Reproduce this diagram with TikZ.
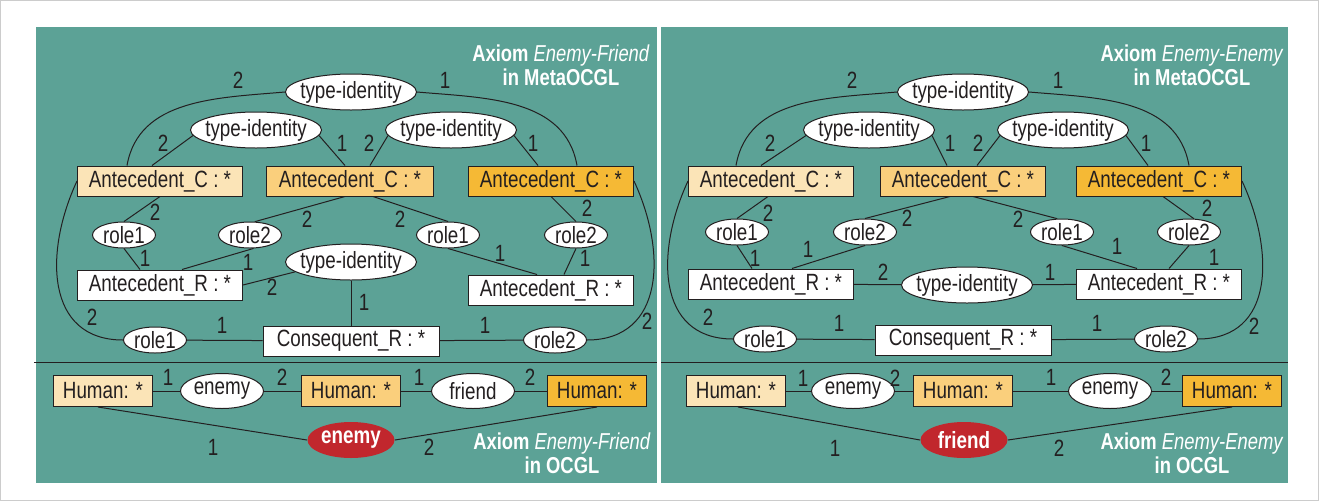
\documentclass[tikz,border=0pt]{standalone}
\usepackage{fontspec}
\setmainfont{Liberation Sans}[FakeStretch = 0.8]
\usepackage{tikz}
\usetikzlibrary{shapes.geometric}

\definecolor{ink}{RGB}{35,31,32}
\definecolor{panel}{RGB}{92,162,150}
\definecolor{pale}{RGB}{251,228,183}
\definecolor{mid}{RGB}{250,207,124}
\definecolor{deep}{RGB}{245,185,53}
\definecolor{alarm}{RGB}{193,39,45}

\newcommand{\diagfont}{\fontsize{23.5}{28}\selectfont}

\tikzset{
concept box/.style = { rectangle, draw = ink, fill = #1, minimum width = 165pt, minimum height = 30pt, inner sep = 0pt },
human box/.style = { concept box = #1, minimum width = 99pt, minimum height = 31pt },
relation/.style = { ellipse, draw = ink, fill = white, inner xsep = -5pt, inner ysep = 0pt, minimum width = 131pt, minimum height = 36pt },
role/.style = { relation, minimum width = 63pt, minimum height = 26pt },
link/.style = { relation, minimum width = 83pt, minimum height = 35pt },
fact oval/.style = { ellipse, fill = alarm, text = white, font = \diagfont\bfseries, inner xsep = -5pt, inner ysep = 0pt, minimum width = 87pt, minimum height = 36pt },
card/.style = { inner sep = 0pt },
heading/.style = { text = white, align = center, font = \fontsize{23}{24}\selectfont },
}

\begin{document}
\begin{tikzpicture}[x = 1pt, y = -1pt, font = \diagfont, color = ink, line width = 1pt]
  \useasboundingbox (0, 0) rectangle (1319, 501);
  \draw[gray!40] (0.5, 0.5) rectangle (1318.5, 500.5);
  \fill[panel] (36, 27) rectangle (657, 483);
  \fill[panel] (661, 27) rectangle (1288, 483);
  \draw (34, 362) -- (657, 362);
  \draw (661, 362) -- (1288, 362);

  % Enemy-Friend, MetaOCGL part
  \node[heading] (efMetaTitle) at (561, 65) {\textbf{Axiom} \textit{Enemy-Friend}\\\textbf{in MetaOCGL}};
  \node[relation] (efTop) at (351, 92) {type-identity};
  \node[relation] (efTiL) at (256, 130) {type-identity};
  \node[relation] (efTiR) at (451, 130) {type-identity};
  \node[concept box = pale] (efAcL) at (160, 181) {Antecedent\_C : *};
  \node[concept box = mid, minimum width = 167pt] (efAcM) at (350, 181) {Antecedent\_C : *};
  \node[concept box = deep] (efAcR) at (551, 181) {Antecedent\_C : *};
  \node[role] (efRoA) at (124, 235) {role1};
  \node[role] (efRoB) at (250, 235) {role2};
  \node[role] (efRoC) at (448, 235) {role1};
  \node[role] (efRoD) at (576, 235) {role2};
  \node[concept box = white] (efArL) at (160, 285) {Antecedent\_R : *};
  \node[relation] (efTiM) at (351, 262) {type-identity};
  \node[concept box = white] (efArR) at (551, 290) {Antecedent\_R : *};
  \node[concept box = white, minimum width = 176pt] (efCons) at (351, 341) {Consequent\_R : *};
  \node[role] (efRoE) at (155, 340) {role1};
  \node[role] (efRoF) at (555, 340) {role2};

  \draw (efTop.west) to[out = 185, in = 80] ([xshift = -33pt] efAcL.north) node[card] at (238, 80) {2};
  \draw (efTop.east) to[out = -5, in = 100] ([xshift = 26pt] efAcR.north) node[card] at (445, 80) {1};
  \draw (efTiL.185) -- ([xshift = -8pt] efAcL.north) node[card] at (163, 143) {2};
  \draw (efTiL.355) -- ([xshift = -5pt] efAcM.north) node[card] at (342, 143) {1};
  \draw (efTiR.185) -- ([xshift = 20pt] efAcM.north) node[card] at (369, 143) {2};
  \draw (efTiR.355) -- ([xshift = -13pt] efAcR.north) node[card] at (533, 143) {1};
  \draw (efAcL.south) -- (efRoA.north) node[card] at (155, 212) {2};
  \draw ([xshift = -5pt] efAcM.south) -- (efRoB.70) node[card] at (307, 219) {2};
  \draw ([xshift = 23pt] efAcM.south) -- (efRoC.north) node[card] at (400, 219) {2};
  \draw (efAcR.south) -- (efRoD.north) node[card] at (587, 208) {2};
  \draw (efRoA.south) -- ([xshift = -20pt] efArL.north) node[card] at (145, 258) {1};
  \draw (efRoB.285) -- ([xshift = 22pt] efArL.north) node[card] at (248, 262) {1};
  \draw (efTiM.190) -- (efArL.east) node[card] at (272, 287) {2};
  \draw (efTiM.south) -- (efCons.north) node[card] at (364, 302) {1};
  \draw (efRoC.south) -- ([xshift = -14pt] efArR.north) node[card] at (500, 253) {1};
  \draw (efRoD.south) -- ([xshift = 13pt] efArR.north) node[card] at (585, 258) {1};
  \draw (efAcL.west) to[out = 245, in = 180, looseness = 1.2] (efRoE.west) node[card] at (92, 317) {2};
  \draw (efAcR.east) to[out = -65, in = 0, looseness = 1.2] (efRoF.east) node[card] at (647, 321) {2};
  \draw (efRoE) -- (efCons) node[card] at (222, 325) {1};
  \draw (efCons) -- (efRoF) node[card] at (485, 325) {1};

  % Enemy-Friend, OCGL part
  \node[human box = pale] (efHuA) at (103, 391) {Human: *};
  \node[link] (efEnemy) at (222, 391) {enemy};
  \node[human box = mid] (efHuB) at (351, 391) {Human: *};
  \node[link] (efFriend) at (473, 391) {friend};
  \node[human box = deep] (efHuC) at (597, 391) {Human: *};
  \node[fact oval] (efFact) at (351, 440) {enemy};
  \node[heading] (efTitle) at (562, 453) {\textbf{Axiom} \textit{Enemy-Friend}\\\textbf{in OCGL}};

  \draw (efHuA) -- (efEnemy) node[card] at (168, 377) {1};
  \draw (efEnemy) -- (efHuB) node[card] at (282, 377) {2};
  \draw (efHuB) -- (efFriend) node[card] at (419, 377) {1};
  \draw (efFriend) -- (efHuC) node[card] at (530, 377) {2};
  \draw ([xshift = -5pt] efHuA.south) -- (efFact.west) node[card] at (213, 447) {1};
  \draw (efHuC.south) -- (efFact.east) node[card] at (429, 447) {2};

  % Enemy-Enemy, MetaOCGL part
  \node[heading] (eeMetaTitle) at (1192, 65) {\textbf{Axiom} \textit{Enemy-Enemy}\\\textbf{in MetaOCGL}};
  \node[relation] (eeTop) at (963, 92) {type-identity};
  \node[relation] (eeTiL) at (869, 130) {type-identity};
  \node[relation] (eeTiR) at (1063, 130) {type-identity};
  \node[concept box = pale] (eeAcL) at (771, 181) {Antecedent\_C : *};
  \node[concept box = mid] (eeAcM) at (963, 181) {Antecedent\_C : *};
  \node[concept box = deep] (eeAcR) at (1159, 181) {Antecedent\_C : *};
  \node[role] (eeRoA) at (737, 232) {role1};
  \node[role] (eeRoB) at (865, 232) {role2};
  \node[role] (eeRoC) at (1062, 232) {role1};
  \node[role] (eeRoD) at (1189, 232) {role2};
  \node[concept box = white] (eeArL) at (771, 284) {Antecedent\_R : *};
  \node[relation] (eeTiM) at (967, 285) {type-identity};
  \node[concept box = white] (eeArR) at (1159, 284) {Antecedent\_R : *};
  \node[concept box = white, minimum width = 176pt] (eeCons) at (963, 340) {Consequent\_R : *};
  \node[role] (eeRoE) at (765, 339) {role1};
  \node[role] (eeRoF) at (1166, 339) {role2};

  \draw (eeTop.west) to[out = 185, in = 80] ([xshift = -35pt] eeAcL.north) node[card] at (852, 80) {2};
  \draw (eeTop.east) to[out = -5, in = 100] ([xshift = 30pt] eeAcR.north) node[card] at (1058, 80) {1};
  \draw (eeTiL.185) -- ([xshift = -10pt] eeAcL.north) node[card] at (770, 143) {2};
  \draw (eeTiL.355) -- ([xshift = -16pt] eeAcM.north) node[card] at (950, 143) {1};
  \draw (eeTiR.185) -- ([xshift = 14pt] eeAcM.north) node[card] at (978, 143) {2};
  \draw (eeTiR.355) -- ([xshift = -11pt] eeAcR.north) node[card] at (1146, 143) {1};
  \draw ([xshift = -3pt] eeAcL.south) -- (eeRoA.north) node[card] at (768, 213) {2};
  \draw ([xshift = -13pt] eeAcM.south) -- (eeRoB.north) node[card] at (907, 218) {2};
  \draw ([xshift = 10pt] eeAcM.south) -- (eeRoC.110) node[card] at (1018, 219) {2};
  \draw ([xshift = 4pt] eeAcR.south) -- (eeRoD.70) node[card] at (1207, 208) {2};
  \draw (eeRoA.south) -- ([xshift = -19pt] eeArL.north) node[card] at (755, 258) {1};
  \draw (eeRoB.south) -- ([xshift = 21pt] eeArL.north) node[card] at (808, 249) {1};
  \draw (eeArL) -- (eeTiM) node[card] at (883, 272) {2};
  \draw (eeTiM) -- (eeArR) node[card] at (1050, 272) {1};
  \draw (eeRoC.south) -- ([xshift = -22pt] eeArR.north) node[card] at (1117, 246) {1};
  \draw (eeRoD.south) -- ([xshift = 10pt] eeArR.north) node[card] at (1214, 257) {1};
  \draw (eeAcL.west) to[out = 245, in = 180, looseness = 1.2] (eeRoE.west) node[card] at (708, 317) {2};
  \draw (eeAcR.east) to[out = -65, in = 0, looseness = 1.2] (eeRoF.east) node[card] at (1254, 326) {2};
  \draw (eeRoE) -- (eeCons) node[card] at (839, 323) {1};
  \draw (eeCons) -- (eeRoF) node[card] at (1097, 323) {1};

  % Enemy-Enemy, OCGL part
  \node[human box = pale] (eeHuA) at (736, 391) {Human: *};
  \node[link] (eeEnemyA) at (853, 391) {enemy};
  \node[human box = mid] (eeHuB) at (963, 391) {Human: *};
  \node[link] (eeEnemyB) at (1110, 391) {enemy};
  \node[human box = deep] (eeHuC) at (1232, 391) {Human: *};
  \node[fact oval] (eeFact) at (964, 440) {friend};
  \node[heading] (eeTitle) at (1192, 453) {\textbf{Axiom} \textit{Enemy-Enemy}\\\textbf{in OCGL}};

  \draw (eeHuA) -- (eeEnemyA) node[card] at (803, 378) {1};
  \draw (eeEnemyA) -- (eeHuB) node[card] at (895, 378) {2};
  \draw (eeHuB) -- (eeEnemyB) node[card] at (1051, 377) {1};
  \draw (eeEnemyB) -- (eeHuC) node[card] at (1166, 377) {2};
  \draw ([xshift = 2pt] eeHuA.south) -- (eeFact.west) node[card] at (835, 448) {1};
  \draw (eeHuC.south) -- (eeFact.east) node[card] at (1059, 448) {2};
\end{tikzpicture}
\end{document}
